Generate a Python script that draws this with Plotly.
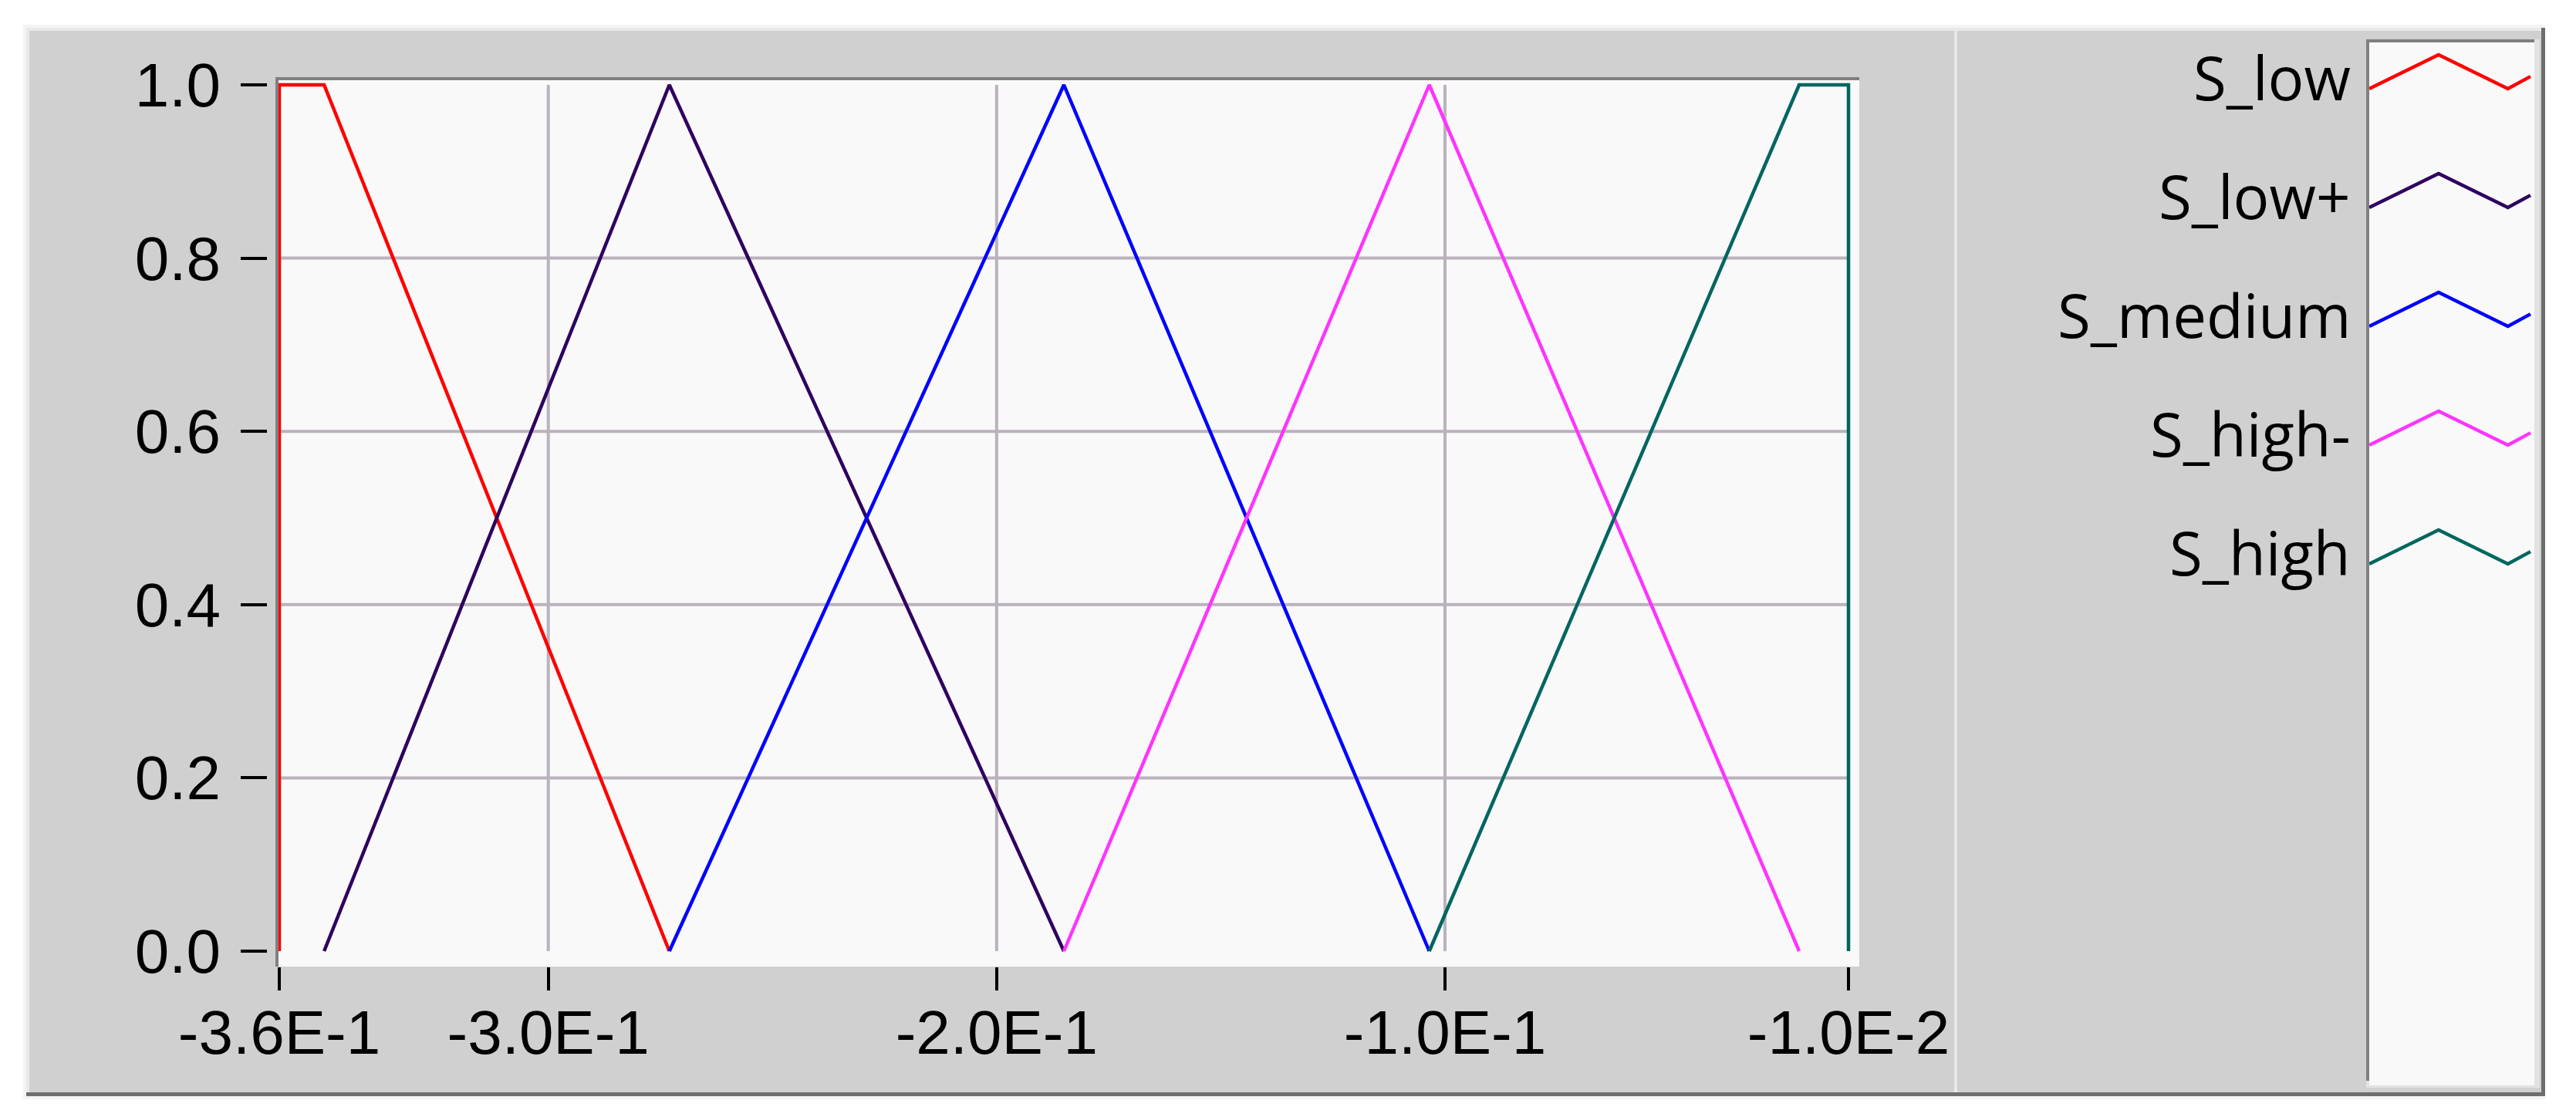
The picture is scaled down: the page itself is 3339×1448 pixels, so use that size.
import plotly.graph_objects as go

W, H = 3339, 1448

# membership functions
names = ["S_low", "S_low+", "S_medium", "S_high-", "S_high"]
colors = ["#FF0000", "#2E0060", "#0000FF", "#FF33FF", "#006660"]

s_low_x = [-0.36, -0.36, -0.35, -0.273]
s_low_y = [0, 1, 1, 0]
s_lowp_x = [-0.35, -0.273, -0.185]
s_lowp_y = [0, 1, 0]
s_med_x = [-0.273, -0.185, -0.1035]
s_med_y = [0, 1, 0]
s_highm_x = [-0.185, -0.1035, -0.021]
s_highm_y = [0, 1, 0]
s_high_x = [-0.1035, -0.021, -0.01, -0.01]
s_high_y = [0, 1, 1, 0]

xs = [s_low_x, s_lowp_x, s_med_x, s_highm_x, s_high_x]
ys = [s_low_y, s_lowp_y, s_med_y, s_highm_y, s_high_y]

x_ticks = [-0.36, -0.3, -0.2, -0.1, -0.01]
x_ticktext = ["-3.6E-1", "-3.0E-1", "-2.0E-1", "-1.0E-1", "-1.0E-2"]
y_ticks = [0.0, 0.2, 0.4, 0.6, 0.8, 1.0]
y_ticktext = ["0.0", "0.2", "0.4", "0.6", "0.8", "1.0"]

# zig-zag legend glyph (shape of the sample line)
glyph_x = [0, 0.43, 0.86, 1.0]
glyph_y = [0, 1, 0, 0.36]
glyph_h = 0.286

tick_font = dict(family="Liberation Sans Narrow, Arial Narrow, Liberation Sans, sans-serif",
                 size=80, color="black")


def px_rect(x0, y0, x1, y1, color):
    return dict(type="rect", xref="paper", yref="paper", layer="below",
                x0=x0 / W, x1=x1 / W, y0=1 - y1 / H, y1=1 - y0 / H,
                fillcolor=color, line=dict(width=0))


fig = go.Figure()

for name, c, x, y in zip(names, colors, xs, ys):
    fig.add_trace(go.Scatter(x=x, y=y, mode="lines", name=name,
                             line=dict(color=c, width=4.5), hoverinfo="skip"))

# legend samples on their own little axis
for i, (name, c) in enumerate(zip(names, colors)):
    fig.add_trace(go.Scatter(x=glyph_x, y=[-i + g * glyph_h for g in glyph_y],
                             mode="lines", line=dict(color=c, width=4.5),
                             xaxis="x2", yaxis="y2", hoverinfo="skip", showlegend=False))
    fig.add_annotation(x=0, y=-i + 0.1, xref="x2", yref="y2", text=name,
                       showarrow=False, xanchor="right", yanchor="middle", xshift=-22,
                       font=dict(family="Open Sans, Noto Sans, sans-serif", size=78, color="black"))

shapes = [
    px_rect(30, 32, 3299, 1425, "#F4F4F4"),
    px_rect(34, 36, 3299, 1421, "#6E6E6E"),
    px_rect(34, 36, 3294, 1416, "#E9E9E9"),
    px_rect(38, 40, 3294, 1416, "#D0D0D0"),
    px_rect(2533, 40, 2537, 1416, "#E8E8E8"),
    # plot area with sunken frame
    px_rect(357, 100, 2410, 1253, "#808080"),
    px_rect(361, 104, 2410, 1253, "#F9F9F9"),
    # legend box
    px_rect(3067, 51, 3292, 1410, "#E2E2E2"),
    px_rect(3067, 51, 3285, 1401, "#808080"),
    px_rect(3071, 55, 3285, 1407, "#F9F9F9"),
]

grid_color = "#BAB2BC"
for v in x_ticks[1:-1]:
    shapes.append(dict(type="line", xref="x", yref="y", layer="below",
                       x0=v, x1=v, y0=y_ticks[0], y1=y_ticks[-1],
                       line=dict(color=grid_color, width=4)))
for v in y_ticks[1:-1]:
    shapes.append(dict(type="line", xref="x", yref="y", layer="below",
                       x0=x_ticks[0], x1=x_ticks[-1], y0=v, y1=v,
                       line=dict(color=grid_color, width=4)))

x_scale = (2396 - 362) / 0.35
y_scale = 1233 - 110

fig.update_layout(
    width=W, height=H,
    margin=dict(l=0, r=0, t=0, b=0, autoexpand=False),
    paper_bgcolor="white",
    plot_bgcolor="rgba(0,0,0,0)",
    showlegend=False,
    shapes=shapes,
    xaxis=dict(domain=[361 / W, 2410 / W],
               range=[-0.36 - 1 / x_scale, -0.01 + 14 / x_scale],
               tickvals=x_ticks, ticktext=x_ticktext, tickfont=tick_font,
               ticks="outside", ticklen=30, tickwidth=4, tickcolor="black",
               showgrid=False, zeroline=False, showline=False, automargin=False,
               ticklabelstandoff=-14),
    yaxis=dict(domain=[1 - 1253 / H, 1 - 104 / H],
               range=[-20 / y_scale, 1 + 6 / y_scale],
               anchor="free", position=346 / W,
               tickvals=y_ticks, ticktext=y_ticktext, tickfont=tick_font,
               ticks="outside", ticklen=34, tickwidth=4, tickcolor="black",
               showgrid=False, zeroline=False, showline=False, automargin=False,
               ticklabelstandoff=10),
    xaxis2=dict(domain=[3071 / W, 3285 / W], range=[0, 214 / 209],
                visible=False, anchor="y2", automargin=False),
    yaxis2=dict(domain=[1 - 1407 / H, 1 - 55 / H], range=[-(1407 - 115) / 154, 60 / 154],
                visible=False, anchor="x2", automargin=False),
)

# drop the default page margin so the figure sits at the window origin
fig.write_html("out.html", config={"displayModeBar": False},
               post_script="document.body.style.margin='0';")
